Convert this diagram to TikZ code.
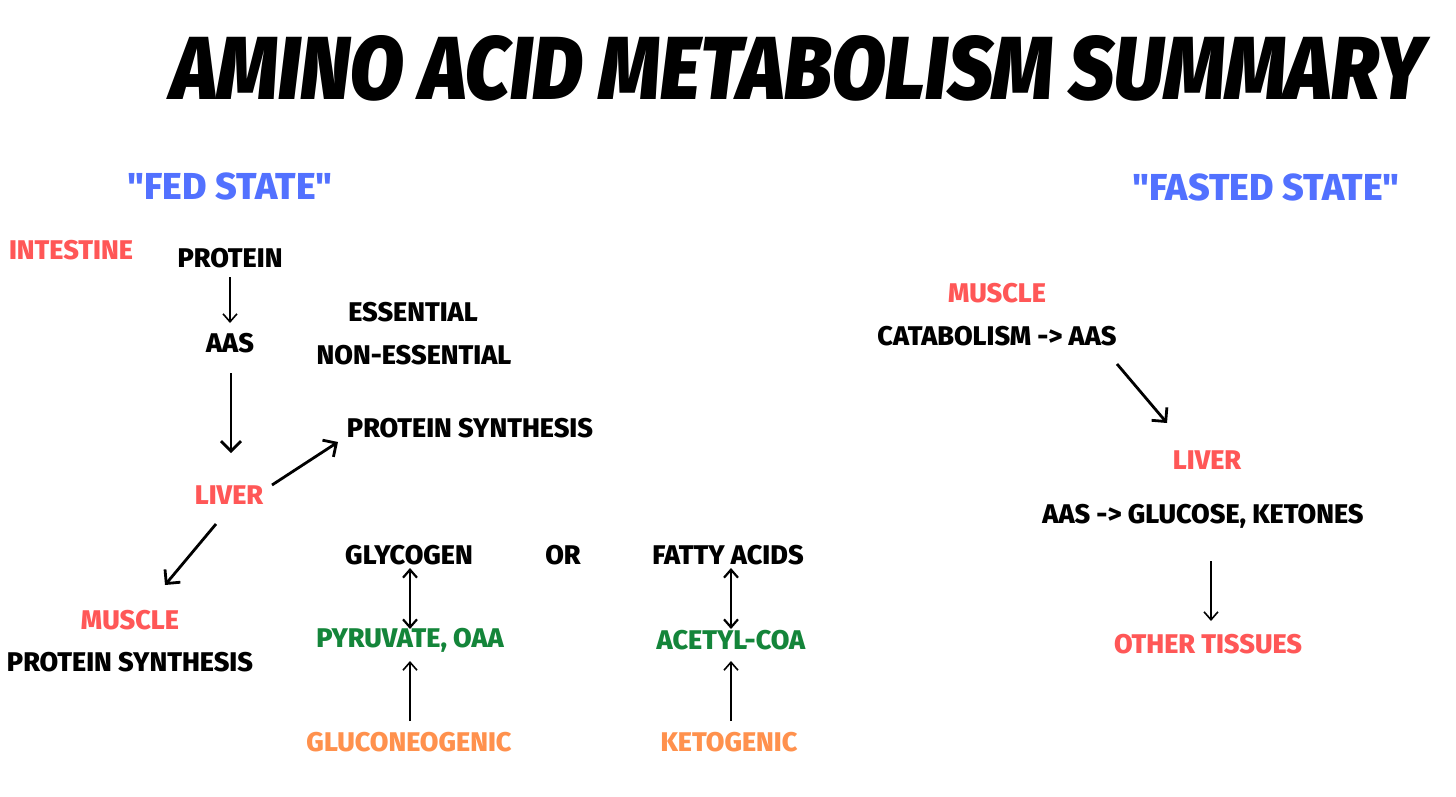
\documentclass[tikz,border=0pt]{standalone}
\usepackage{fontspec}
\setmainfont{Fira Sans}[Ligatures=TeXOff, BoldFont={Fira Sans ExtraBold}, BoldItalicFont={Fira Sans Black Italic}]
\usetikzlibrary{arrows.meta}
\definecolor{cred}{HTML}{FF5757}
\definecolor{cblue}{HTML}{5271FF}
\definecolor{cgreen}{HTML}{14853A}
\definecolor{corange}{HTML}{FF914D}
\tikzset{
  lbl/.style={inner sep=0pt, font=\fontsize{27}{30}\selectfont\bfseries},
  redlbl/.style={lbl, text=cred},
  greenlbl/.style={lbl, text=cgreen},
  orangelbl/.style={lbl, text=corange},
  bluelbl/.style={inner sep=0pt, text=cblue, font=\fontsize{37.5}{40}\selectfont\bfseries},
  thinarr/.style={-{Straight Barb[length=8pt,width=14pt]}, line width=1.6pt},
  thickarr/.style={-{Straight Barb[length=10pt,width=20pt]}, line width=2.8pt},
  dblarr/.style={{Straight Barb[length=8pt,width=14pt]}-{Straight Barb[length=8pt,width=14pt]}, line width=2.2pt},
}
\begin{document}
\begin{tikzpicture}[x=1pt,y=-1pt]
\useasboundingbox[fill=white] (0,0) rectangle (1456,796);
% title
\node[inner sep=0pt] (title) at (798,68) {\resizebox{1253pt}{64pt}{\bfseries\itshape AMINO ACID METABOLISM SUMMARY}};
% headings
\node[bluelbl] (fed) at (230,186) {"FED STATE"};
\node[bluelbl] (fasted) at (1266,187) {"FASTED STATE"};
% fed state
\node[redlbl] (intestine) at (71,250) {INTESTINE};
\node[lbl] (protein) at (230,258) {PROTEIN};
\node[lbl] (aas) at (230,343) {AAS};
\node[lbl] (ess) at (413,312) {ESSENTIAL};
\node[lbl] (noness) at (414,355) {NON-ESSENTIAL};
\node[lbl] (psyn1) at (470,428) {PROTEIN SYNTHESIS};
\node[redlbl] (liver1) at (229,495) {LIVER};
\node[redlbl] (muscle1) at (130,620) {MUSCLE};
\node[lbl] (psyn2) at (130,662) {PROTEIN SYNTHESIS};
\node[lbl] (glycogen) at (409,555) {GLYCOGEN};
\node[lbl] (or) at (563,555) {OR};
\node[lbl] (fatty) at (728,555) {FATTY ACIDS};
\node[greenlbl] (pyr) at (410,640) {PYRUVATE, OAA};
\node[greenlbl] (acetyl) at (731,640) {ACETYL-COA};
\node[orangelbl] (gluco) at (409,742) {GLUCONEOGENIC};
\node[orangelbl] (keto) at (729,742) {KETOGENIC};
% fasted state
\node[redlbl] (muscle2) at (997,293) {MUSCLE};
\node[lbl] (catab) at (997,336) {CATABOLISM -> AAS};
\node[redlbl] (liver2) at (1207,460) {LIVER};
\node[lbl] (aasglu) at (1203,516) {AAS -> GLUCOSE, KETONES};
\node[redlbl] (other) at (1208,644) {OTHER TISSUES};
% connector end points
\coordinate (a1s) at (230,277); \coordinate (a1e) at (230,323);
\coordinate (a2s) at (231,373); \coordinate (a2e) at (231,453);
\coordinate (a3s) at (272,485); \coordinate (a3e) at (338,442);
\coordinate (a4s) at (216,524); \coordinate (a4e) at (165,585);
\coordinate (a5s) at (410,568); \coordinate (a5e) at (410,629);
\coordinate (a6s) at (731,568); \coordinate (a6e) at (731,629);
\coordinate (a7s) at (410,721); \coordinate (a7e) at (410,661);
\coordinate (a8s) at (731,721); \coordinate (a8e) at (731,661);
\coordinate (a9s) at (1117,364); \coordinate (a9e) at (1167,423);
\coordinate (a10s) at (1211,561); \coordinate (a10e) at (1211,621);
% connectors
\draw[thinarr] (a1s) -- (a1e);
\draw[thickarr] (a2s) -- (a2e);
\draw[thickarr] (a3s) -- (a3e);
\draw[thickarr] (a4s) -- (a4e);
\draw[dblarr] (a5s) -- (a5e);
\draw[dblarr] (a6s) -- (a6e);
\draw[thinarr] (a7s) -- (a7e);
\draw[thinarr] (a8s) -- (a8e);
\draw[thickarr] (a9s) -- (a9e);
\draw[thinarr] (a10s) -- (a10e);
\end{tikzpicture}
\end{document}
